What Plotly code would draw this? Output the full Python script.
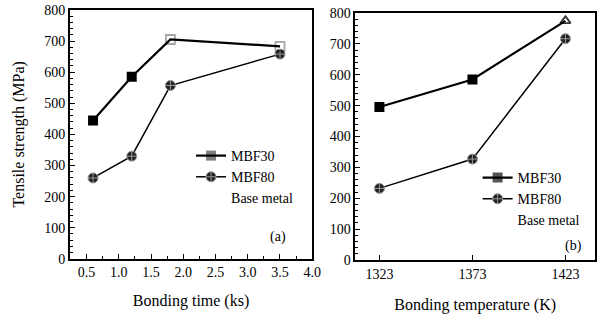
import plotly.graph_objects as go

# ---- data: panel (a) bonding time ----
time_ks = [0.6, 1.2, 1.8, 3.5]
mbf30_time = [445, 585, 705, 683]
mbf80_time = [260, 330, 557, 658]
base_time_x = [1.8, 3.5]
base_time_y = [705, 683]

# ---- data: panel (b) bonding temperature ----
temp_k = [1323, 1373, 1423]
mbf30_temp = [496, 585, 775]
mbf80_temp = [232, 327, 717]
base_temp_x = [1423]
base_temp_y = [775]

y_ticks = [0, 100, 200, 300, 400, 500, 600, 700, 800]
x_ticks_a = [0.5, 1.0, 1.5, 2.0, 2.5, 3.0, 3.5, 4.0]
x_ticks_b = [1323, 1373, 1423]

FONT = "Liberation Serif"
fig = go.Figure()

def add_panel(xv, y30, y80, bx, by, xa, ya, lg, base_symbol, base_color):
    fig.add_trace(go.Scatter(x=xv, y=y30, name="MBF30", mode="lines+markers",
                             line=dict(color="black", width=2.2),
                             marker=dict(symbol="square", size=10,
                                         opacity=[1] * 2 + [0] * (len(xv) - 2),
                                         color="black"),
                             xaxis=xa, yaxis=ya, legend=lg))
    fig.add_trace(go.Scatter(x=xv, y=y80, name="MBF80", mode="lines+markers",
                             line=dict(color="black", width=1.5),
                             marker=dict(symbol="circle-cross", size=10, color="#222",
                                         line=dict(color="#999", width=1)),
                             xaxis=xa, yaxis=ya, legend=lg))
    fig.add_trace(go.Scatter(x=bx, y=by, name="Base metal", mode="markers",
                             marker=dict(symbol=base_symbol, size=9, color=base_color,
                                         line=dict(width=1.8)),
                             showlegend=False, xaxis=xa, yaxis=ya))
    # legend-only entry with no visible symbol (as in reference)
    fig.add_trace(go.Scatter(x=[None], y=[None], name="Base metal", mode="markers",
                             marker=dict(color="rgba(0,0,0,0)", size=1),
                             xaxis=xa, yaxis=ya, legend=lg))

add_panel(time_ks, mbf30_time, mbf80_time, base_time_x, base_time_y, "x", "y", "legend",
          "square-open", "rgba(0,0,0,0.35)")
add_panel(temp_k, mbf30_temp, mbf80_temp, base_temp_x, base_temp_y, "x2", "y2", "legend2",
          "triangle-up-open", "rgba(0,0,0,0.8)")

axis_common = dict(showline=True, linecolor="black", linewidth=1.5, mirror=True,
                   ticks="inside", ticklen=5, tickcolor="black", showgrid=False,
                   zeroline=False, automargin=False,
                   tickfont=dict(family=FONT, size=14, color="black"))

fig.update_layout(
    width=597, height=320,
    margin=dict(l=0, r=0, t=0, b=0),
    paper_bgcolor="white", plot_bgcolor="white",
    font=dict(family=FONT, color="black"),
    xaxis=dict(domain=[0.117, 0.523], range=[0.24, 4.0], tickvals=x_ticks_a,
               tickformat=".1f",
               minor=dict(ticks="inside", dtick=0.25, ticklen=3, tickcolor="black"),
               title=dict(text="Bonding time (ks)", font=dict(family=FONT, size=16), standoff=15),
               anchor="y", **axis_common),
    yaxis=dict(domain=[0.191, 0.969], range=[0, 800], tickvals=y_ticks,
               minor=dict(ticks="inside", dtick=20, ticklen=3, tickcolor="black"),
               title=dict(text="Tensile strength (MPa)", font=dict(family=FONT, size=16), standoff=16),
               anchor="x", **axis_common),
    xaxis2=dict(domain=[0.595, 0.997], range=[1310, 1439], tickvals=x_ticks_b,
                title=dict(text="Bonding temperature (K)", font=dict(family=FONT, size=16), standoff=18),
                anchor="y2", **axis_common),
    yaxis2=dict(domain=[0.1875, 0.959], range=[0, 800], tickvals=y_ticks,
                minor=dict(ticks="inside", dtick=20, ticklen=3, tickcolor="black"),
                anchor="x2", **axis_common),
    legend=dict(x=0.32, y=1 - 140 / 320, xanchor="left", yanchor="top", bgcolor="rgba(0,0,0,0)",
                font=dict(family=FONT, size=14), tracegroupgap=0, itemwidth=30,
                traceorder="normal"),
    legend2=dict(x=0.8, y=1 - 162 / 320, xanchor="left", yanchor="top", bgcolor="rgba(0,0,0,0)",
                 font=dict(family=FONT, size=14), tracegroupgap=0, itemwidth=30,
                 traceorder="normal"),
    annotations=[
        dict(text="(a)", x=278 / 597, y=1 - 237 / 320, xref="paper", yref="paper", showarrow=False,
             xanchor="center", yanchor="middle", font=dict(family=FONT, size=14)),
        dict(text="(b)", x=573 / 597, y=1 - 246 / 320, xref="paper", yref="paper", showarrow=False,
             xanchor="center", yanchor="middle", font=dict(family=FONT, size=14)),
    ],
)

fig.write_html("out.html", config={"displayModeBar": False},
               post_script="document.body.style.margin='0';")
